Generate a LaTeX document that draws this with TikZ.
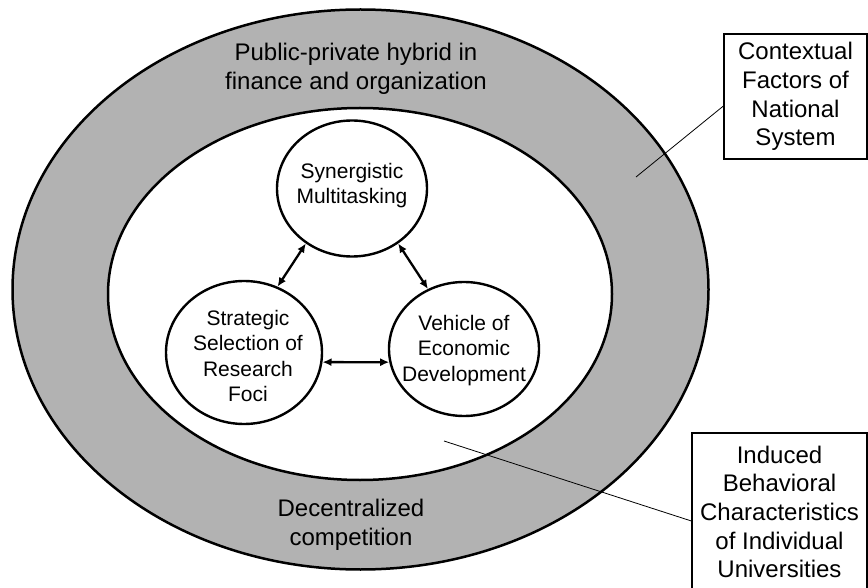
\documentclass[tikz,border=0pt]{standalone}
\usepackage{fontspec}
\setmainfont{Liberation Sans}
\usetikzlibrary{shapes.geometric,arrows.meta}
\begin{document}
\begin{tikzpicture}[x=1pt,y=-1pt,
  bigtxt/.style={font=\fontsize{24}{28.7}\selectfont, align=center, inner sep=0pt},
  smalltxt/.style={font=\fontsize{21}{25.3}\selectfont, align=center, inner sep=0pt},
  bubble/.style={ellipse, draw, line width=2.4pt, fill=white, inner sep=0pt},
  infobox/.style={draw, line width=1.2pt, fill=white, inner sep=0pt, align=center, font=\fontsize{24}{28.7}\selectfont},
  link/.style={{Latex[length=9pt,width=8pt]}-{Latex[length=9pt,width=8pt]}, line width=2.3pt},
  leader/.style={line width=0.8pt}]
\useasboundingbox (0,0) rectangle (868,588);
\fill[white] (0,0) rectangle (868,588);
% rings
\draw[line width=2.5pt, fill=black!30] (360.5,289.5) ellipse [x radius=348, y radius=280];
\draw[line width=2.5pt, fill=white] (360,294) ellipse [x radius=252, y radius=186];
% ring labels
\node[bigtxt] (pub) at (356,69) {Public-private hybrid in\\finance and organization};
\node[bigtxt] (dec) at (351,524.5) {Decentralized\\competition};
% bubbles
\node[bubble, minimum width=150pt, minimum height=136pt] (syn) at (352,188.5) {};
\node[bubble, minimum width=156pt, minimum height=143pt] (str) at (244,352.5) {};
\node[bubble, minimum width=150pt, minimum height=134pt] (veh) at (464,349) {};
\node[smalltxt] (syntxt) at (352,185.5) {Synergistic\\Multitasking};
\node[smalltxt] (strtxt) at (248,356) {Strategic\\Selection of\\Research\\Foci};
\node[smalltxt] (vehtxt) at (464,350.5) {Vehicle of\\Economic\\Development};
% arrows
\draw[link] (syn.230) -- (str.63);
\draw[link] (syn.-50) -- (veh.121);
\draw[link] (str.-7) -- (veh.190);
% boxes
\node[infobox, minimum width=143pt, minimum height=125pt] (ctx) at (795.5,96.5) {Contextual\\Factors of\\National\\System};
\node[infobox, minimum width=175pt, minimum height=158pt] (ind) at (779.5,512) {Induced\\Behavioral\\Characteristics\\of Individual\\Universities};
% leaders
\coordinate (ctxend) at (636,177);
\coordinate (indend) at (444,441);
\draw[leader] ([yshift=-9.5pt]ctx.west) -- (ctxend);
\draw[leader] ([yshift=-9pt]ind.west) -- (indend);
\end{tikzpicture}
\end{document}
